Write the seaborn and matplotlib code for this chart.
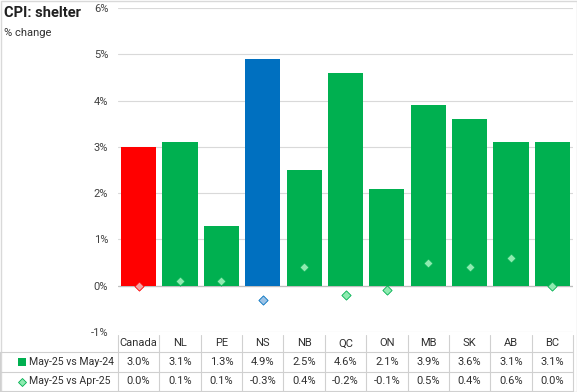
import seaborn as sns
import pandas as pd
import matplotlib.pyplot as plt
import matplotlib.transforms as mtransforms
from matplotlib.patches import Rectangle

regions = ["Canada", "NL", "PE", "NS", "NB", "QC", "ON", "MB", "SK", "AB", "BC"]
yoy = [3.0, 3.1, 1.3, 4.9, 2.5, 4.6, 2.1, 3.9, 3.6, 3.1, 3.1]
mom = [0.0, 0.1, 0.1, -0.3, 0.4, -0.2, -0.1, 0.5, 0.4, 0.6, 0.0]
yoy_label = "May-25 vs May-24"
mom_label = "May-25 vs Apr-25"

bar_colors = {"Canada": "#FF0000", "NS": "#0070C0"}
dot_fill = {"Canada": "#F4A3A3", "NS": "#9DC3E6"}
dot_edge = {"Canada": "#FF0000", "NS": "#0070C0"}
green = "#00B050"

df = pd.DataFrame({"region": regions, "yoy": yoy, "mom": mom})
pal = [bar_colors.get(r, green) for r in regions]

sns.set_style("white")
plt.rcParams["font.family"] = ["Roboto", "DejaVu Sans"]
W, H = 577, 392
fig = plt.figure(figsize=(W / 100, H / 100), dpi=100)
ax = fig.add_axes([118 / W, 1 - 332 / H, (573 - 118) / W, (332 - 8) / H])

sns.barplot(data=df, x="region", y="yoy", hue="region", palette=pal,
            width=0.85, saturation=1, linewidth=0, legend=False, ax=ax, zorder=2)
for i, r in enumerate(regions):
    ax.scatter(i, mom[i], marker="D", s=22, color=dot_fill.get(r, "#8EEBB0"),
               edgecolor=dot_edge.get(r, green), linewidth=0.6, zorder=3)

ax.set_xlim(-0.5, len(regions) - 0.5)
ax.set_ylim(-1, 6)
ax.set_yticks(range(-1, 7))
ax.set_yticklabels([f"{v}%" for v in range(-1, 7)], fontsize=8, color="#404040")
ax.tick_params(axis="y", length=0, pad=7)
ax.set_xticks([])
ax.set_xlabel("")
ax.set_ylabel("")
ax.grid(axis="y", color="#D9D9D9", linewidth=0.8, zorder=0)
ax.axhline(0, color="#BFBFBF", linewidth=0.9, zorder=1)
for s in ax.spines.values():
    s.set_visible(False)

# data table under the chart
line_c = "#D0D0D0"
tr = mtransforms.blended_transform_factory(ax.transData, fig.transFigure)
fy = lambda px: 1 - px / H
rows_y = [335, 352, 372, 391]
n = len(regions)
for k in range(n + 1):
    ax.plot([k - 0.5, k - 0.5], [fy(rows_y[0]), fy(rows_y[-1])], color=line_c,
            lw=0.8, transform=tr, clip_on=False)
for py in rows_y[1:]:
    fig.add_artist(plt.Line2D([0, 573 / W], [fy(py), fy(py)], color=line_c, lw=0.8))
fig.add_artist(plt.Line2D([0, 0], [fy(352), fy(391)], color=line_c, lw=0.8))
for i, r in enumerate(regions):
    ax.text(i, fy(343.5), r, transform=tr, ha="center", va="center", fontsize=8, color="#303030")
    ax.text(i, fy(362), f"{yoy[i]:.1f}%", transform=tr, ha="center", va="center", fontsize=8, color="#303030")
    ax.text(i, fy(381.5), f"{mom[i]:.1f}%", transform=tr, ha="center", va="center", fontsize=8, color="#303030")

fig.add_artist(Rectangle((18 / W, fy(366)), 8 / W, 8 / H, facecolor=green, edgecolor="none"))
fig.text(29 / W, fy(362), yoy_label, ha="left", va="center", fontsize=7.6, color="#303030")
fig.add_artist(plt.Line2D([22 / W], [fy(381.5)], marker="D", markersize=4.5,
                          markerfacecolor="#8EEBB0", markeredgecolor=green, markeredgewidth=0.6))
fig.text(29 / W, fy(381.5), mom_label, ha="left", va="center", fontsize=7.6, color="#303030")

fig.text(4 / W, fy(13), "CPI: shelter", ha="left", va="center", fontsize=10.5,
         fontweight="bold", color="#202020")
fig.text(4 / W, fy(33), "% change", ha="left", va="center", fontsize=8, color="#303030")

fig.add_artist(Rectangle((0.5 / W, 0.5 / H), (W - 1) / W, (H - 1) / H, fill=False,
                         edgecolor="#D9D9D9", lw=1))

fig.savefig("out.png", dpi=100)
